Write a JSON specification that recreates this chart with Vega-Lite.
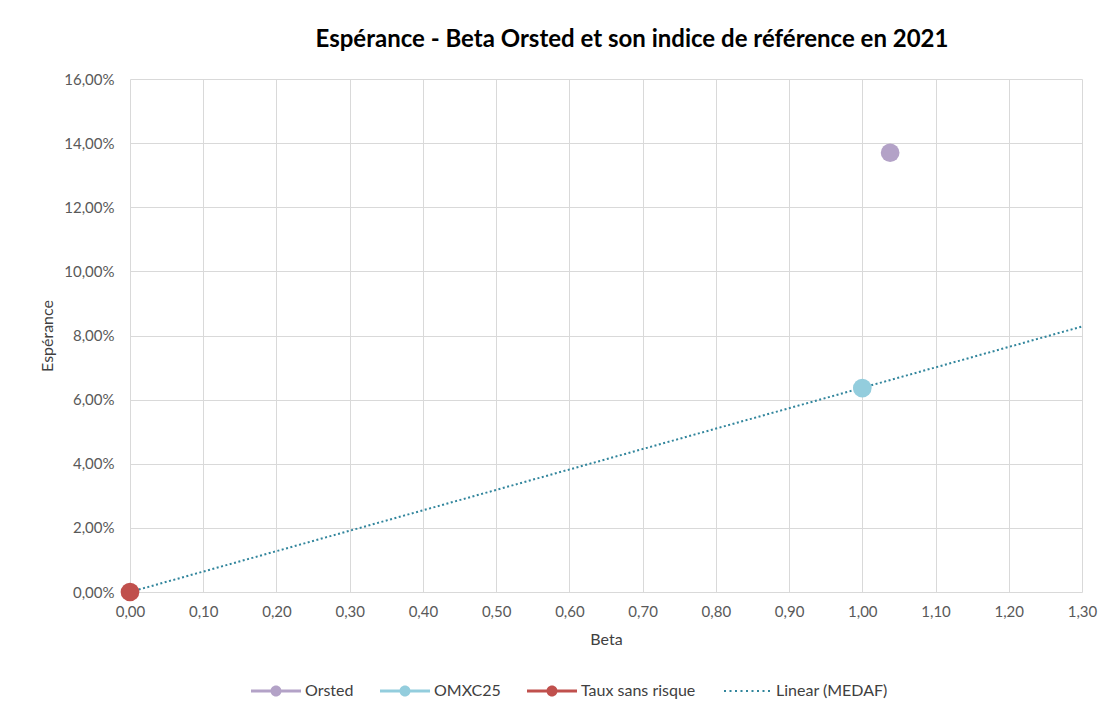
{
  "$schema": "https://vega.github.io/schema/vega-lite/v6.json",
  "autosize": "none",
  "width": 952,
  "height": 513,
  "padding": {"left": 130, "top": 79, "right": 28, "bottom": 124},
  "background": "white",
  "config": {
    "locale": {"number": {"decimal": ",", "thousands": " ", "grouping": [3], "currency": ["", " €"]}},
    "font": "Lato",
    "view": {"stroke": null},
    "axis": {"labelFont": "Lato", "titleFont": "Lato", "labelColor": "#595959", "titleColor": "#404040", "labelFontSize": 15, "titleFontSize": 16, "titleFontWeight": "normal", "gridColor": "#D9D9D9", "gridWidth": 1, "domain": false, "ticks": false, "labelFlush": false, "labelOverlap": false}
  },
  "title": {"text": "Espérance - Beta Orsted et son indice de référence en 2021", "font": "Lato", "fontSize": 24, "fontWeight": "bold", "color": "#000000", "anchor": "middle", "dx": 26, "offset": 20},
  "datasets": {
    "points": [
      {"serie": "Orsted", "beta": 1.038, "esperance": 0.1370},
      {"serie": "OMXC25", "beta": 1.0, "esperance": 0.0636},
      {"serie": "Taux sans risque", "beta": 0.0, "esperance": 0.0}
    ],
    "trend": [
      {"serie": "Linear (MEDAF)", "beta": 0.0, "esperance": 0.0},
      {"serie": "Linear (MEDAF)", "beta": 1.3, "esperance": 0.0828}
    ]
  },
  "layer": [
    {
      "data": {"name": "trend"},
      "mark": {"type": "line", "strokeDash": [2, 2.5], "strokeWidth": 2, "clip": true},
      "encoding": {
        "x": {"field": "beta", "type": "quantitative", "scale": {"domain": [0, 1.3], "nice": false}, "axis": {"title": "Beta", "format": ".2f", "values": [0,0.1,0.2,0.3,0.4,0.5,0.6,0.7,0.8,0.9,1.0,1.1,1.2,1.3], "labelPadding": 12, "titlePadding": 12}},
        "y": {"field": "esperance", "type": "quantitative", "scale": {"domain": [0, 0.16], "nice": false}, "axis": {"title": "Espérance", "format": ".2%", "values": [0,0.02,0.04,0.06,0.08,0.1,0.12,0.14,0.16], "labelPadding": 16, "titlePadding": 8}},
        "color": {"field": "serie", "type": "nominal"}
      }
    },
    {
      "data": {"name": "points"},
      "mark": {"type": "point", "filled": true, "opacity": 1, "size": 350},
      "encoding": {
        "x": {"field": "beta", "type": "quantitative"},
        "y": {"field": "esperance", "type": "quantitative"},
        "color": {
          "field": "serie", "type": "nominal",
          "scale": {"domain": ["Orsted", "OMXC25", "Taux sans risque", "Linear (MEDAF)"], "range": ["#B3A2C7", "#93CDDD", "#C0504D", "#31859C"]},
          "legend": {
            "title": null,
            "orient": "none",
            "direction": "horizontal",
            "legendX": 121,
            "legendY": 587,
            "symbolSize": 2500,
            "symbolStrokeWidth": 0,
            "labelFont": "Lato",
            "labelFontSize": 16,
            "labelColor": "#404040",
            "labelOffset": 4,
            "columnPadding": 26,
            "encoding": {
              "symbols": {
                "shape": {
                  "condition": {"test": "datum.value === 'Linear (MEDAF)'", "value": "M-0.92,-0.04h0.08v0.08h-0.08Z M-0.70,-0.04h0.08v0.08h-0.08Z M-0.48,-0.04h0.08v0.08h-0.08Z M-0.26,-0.04h0.08v0.08h-0.08Z M-0.04,-0.04h0.08v0.08h-0.08Z M0.18,-0.04h0.08v0.08h-0.08Z M0.40,-0.04h0.08v0.08h-0.08Z M0.62,-0.04h0.08v0.08h-0.08Z M0.84,-0.04h0.08v0.08h-0.08Z"},
                  "value": "M-1,-0.06 L1,-0.06 L1,0.06 L-1,0.06 Z M0.22,0 A0.22,0.22 0 1,1 -0.22,0 A0.22,0.22 0 1,1 0.22,0 Z"
                },
                "strokeWidth": {"value": 0},
                "opacity": {"value": 1}
              }
            }
          }
        }
      }
    }
  ]
}
